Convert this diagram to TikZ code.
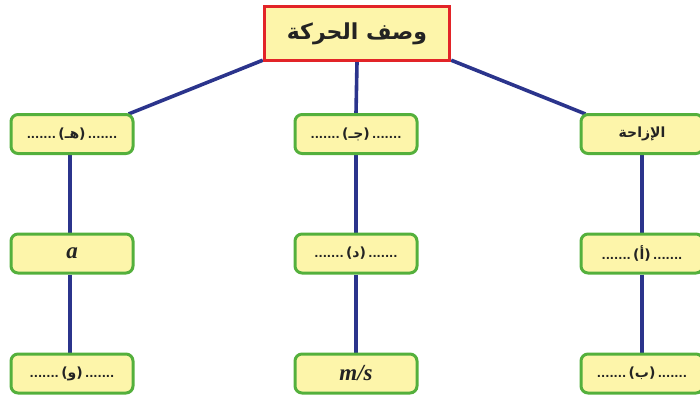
\documentclass[tikz,border=0pt]{standalone}
\usepackage{fontspec}
\setmainfont{DejaVu Sans}
\TeXXeTstate=1
\newfontfamily\arabicfont[Script=Arabic]{DejaVu Sans}
\newfontfamily\serifit{Liberation Serif}
\usetikzlibrary{backgrounds}
\definecolor{boxfill}{RGB}{253,245,170}
\definecolor{boxgreen}{RGB}{84,176,60}
\definecolor{boxred}{RGB}{226,36,40}
\definecolor{linkblue}{RGB}{43,52,140}
\definecolor{txt}{RGB}{35,35,35}
\newcommand{\ar}[1]{{\arabicfont\bfseries\beginR #1\endR}}
\newcommand{\smalldots}{{\fontsize{11}{13}\selectfont\bfseries .......}}
\newcommand{\dotsbox}[1]{\smalldots\,{\fontsize{14}{16}\selectfont\bfseries(\ar{#1})}\,\smalldots}
\begin{document}
\begin{tikzpicture}[x=1pt,y=-1pt,
  topbox/.style={draw=boxred, line width=3.4pt, fill=boxfill, minimum width=185pt, minimum height=54pt, inner sep=0pt, text=txt, font=\fontsize{22}{25}\selectfont},
  leafbox/.style={draw=boxgreen, line width=3pt, fill=boxfill, rounded corners=7pt, minimum width=122pt, minimum height=39pt, inner sep=0pt, text=txt, font=\fontsize{14}{16}\selectfont},
  mathtxt/.style={font=\fontsize{23}{26}\selectfont\serifit\bfseries\itshape},
  link/.style={draw=linkblue, line width=3.6pt}]
\useasboundingbox (0,0) rectangle (700,399);
\clip (0,0) rectangle (700,399);
\node[topbox] (top) at (357,33.5) {\ar{وصف الحركة}};
% left column
\node[leafbox] (h) at (72,134) {\dotsbox{هـ}};
\node[leafbox, mathtxt] (a) at (72,253.5) {a};
\node[leafbox] (w) at (72,373.5) {\dotsbox{و}};
% centre column
\node[leafbox] (j) at (356,134) {\dotsbox{جـ}};
\node[leafbox] (d) at (356,253.5) {\dotsbox{د}};
\node[leafbox, mathtxt] (ms) at (356,373.5) {m/s};
% right column
\node[leafbox] (dis) at (642,134) {\ar{الإزاحة}};
\node[leafbox] (alef) at (642,253.5) {\dotsbox{أ}};
\node[leafbox] (b) at (642,373.5) {\dotsbox{ب}};
\begin{scope}[on background layer]
\draw[link] ([yshift=2pt]top.south west) -- ([xshift=-6pt,yshift=-1pt]h.north east);
\draw[link] (top.south) -- (j.north);
\draw[link] ([yshift=2pt]top.south east) -- ([xshift=6pt,yshift=-1pt]dis.north west);
\draw[link] ([xshift=-2pt]h.south) -- ([xshift=-2pt]a.north);
\draw[link] ([xshift=-2pt]a.south) -- ([xshift=-2pt]w.north);
\draw[link] (j.south) -- (d.north);
\draw[link] (d.south) -- (ms.north);
\draw[link] (dis.south) -- (alef.north);
\draw[link] (alef.south) -- (b.north);
\end{scope}
\end{tikzpicture}
\end{document}
